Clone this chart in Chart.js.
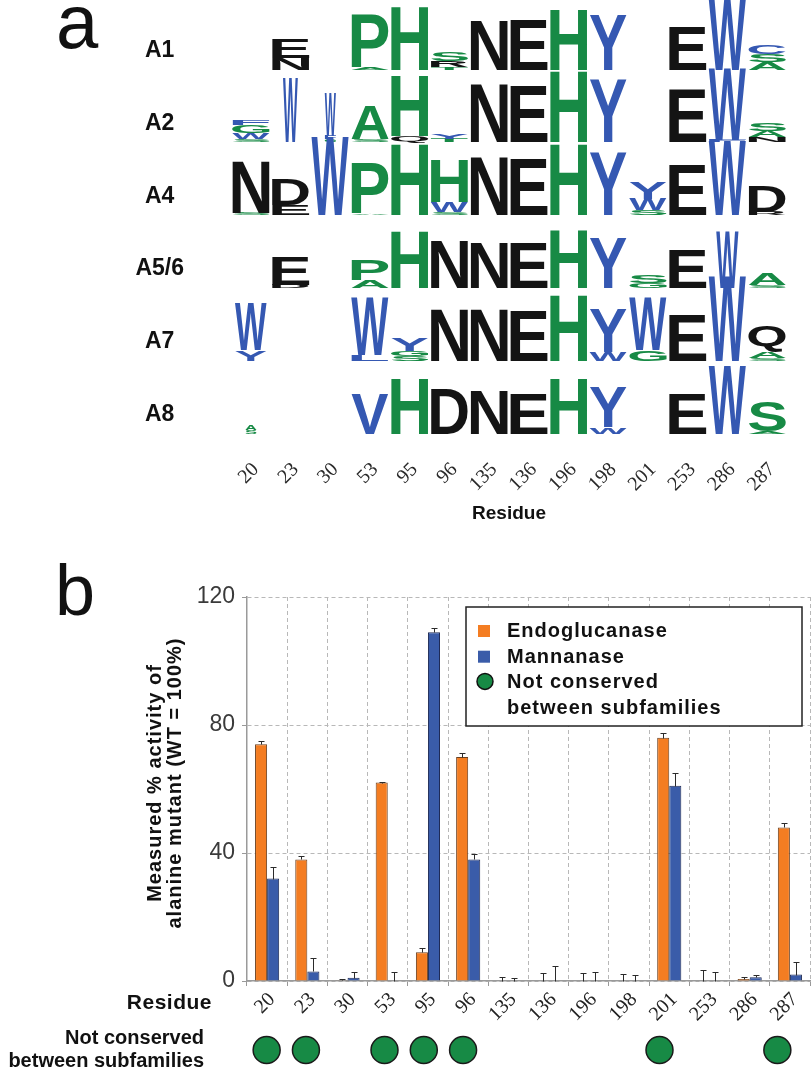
<!DOCTYPE html>
<html>
<head>
<meta charset="utf-8">
<script src="https://cdn.jsdelivr.net/npm/chart.js@4.4.1/dist/chart.umd.min.js"></script>
<style>
  body { margin: 0; background: #fff; width: 812px; height: 1075px; position: relative; overflow: hidden; }
  canvas { position: absolute; left: 0; }
</style>
</head>
<body>
<canvas id="logoChart" width="812" height="545" style="top:0"></canvas>
<canvas id="activityChart" width="812" height="480" style="top:560px"></canvas>
<canvas id="conservedChart" width="812" height="50" style="top:1025px"></canvas>
<script>
// residues shared by both panels
const residues = ['20', '23', '30', '53', '95', '96', '135', '136', '196', '198', '201', '253', '286', '287'];

// panel a: sequence logo, one stack per residue, letters listed bottom -> top as [letter, height]
const logoRows = ['A1', 'A2', 'A4', 'A5/6', 'A7', 'A8'];
const logoA1 = [[], [['N', 0.18], ['E', 0.3]], [], [['A', 0.03], ['P', 0.84]], [['H', 1.0]],
  [['T', 0.04], ['R', 0.1], ['S', 0.14]], [['N', 0.79]], [['E', 0.79]], [['H', 0.97]], [['Y', 0.87]],
  [], [['E', 0.68]], [['W', 1.12]], [['A', 0.12], ['S', 0.12], ['C', 0.14]]];
const logoA2 = [[['S', 0.05], ['W', 0.1], ['G', 0.13], ['F', 0.09]], [['W', 1.02]], [['G', 0.05], ['F', 0.05], ['W', 0.68]],
  [['S', 0.05], ['A', 0.53]], [['Q', 0.1], ['H', 0.97]], [['T', 0.05], ['Y', 0.08]], [['N', 0.92]], [['E', 0.9]],
  [['H', 1.13]], [['Y', 1.0]], [], [['E', 0.84]], [['F', 0.04], ['W', 1.14]], [['N', 0.08], ['A', 0.1], ['S', 0.13]]];
const logoA4 = [[['S', 0.03], ['N', 0.82]], [['E', 0.16], ['D', 0.4]], [['W', 1.24]], [['A', 0.02], ['P', 0.8]],
  [['H', 1.13]], [['S', 0.05], ['W', 0.16], ['H', 0.68]], [['N', 0.92]], [['E', 0.9]], [['H', 1.13]], [['Y', 1.0]],
  [['S', 0.08], ['W', 0.18], ['Y', 0.26]], [['E', 0.79]], [['W', 1.18]], [['R', 0.05], ['D', 0.4]]];
const logoA56 = [[], [['D', 0.05], ['E', 0.45]], [], [['A', 0.13], ['P', 0.32]], [['H', 0.9]], [['N', 0.76]],
  [['N', 0.71]], [['E', 0.71]], [['H', 0.92]], [['Y', 0.79]], [['G', 0.08], ['S', 0.13]], [['E', 0.6]],
  [['W', 0.9]], [['S', 0.05], ['A', 0.18]]];
const logoA7 = [[['Y', 0.17], ['W', 0.76]], [], [], [['L', 0.1], ['W', 0.92]], [['S', 0.08], ['G', 0.08], ['Y', 0.21]],
  [['N', 0.83]], [['N', 0.83]], [['E', 0.8]], [['H', 1.04]], [['W', 0.14], ['Y', 0.68]], [['G', 0.17], ['W', 0.84]],
  [['E', 0.72]], [['W', 1.33]], [['S', 0.05], ['A', 0.1], ['Q', 0.42]]];
const logoA8 = [[['S', 0.06], ['A', 0.08]], [], [], [['V', 0.62]], [['H', 0.88]], [['D', 0.7]], [['N', 0.7]],
  [['E', 0.62]], [['H', 0.88]], [['W', 0.1], ['Y', 0.62]], [], [['E', 0.62]], [['W', 1.07]], [['A', 0.04], ['S', 0.47]]];
const logoStacks = [logoA1, logoA2, logoA4, logoA56, logoA7, logoA8];
// columns with gaps (occupancy < 1) are drawn narrower
const occupancy = [['A2', 1, 0.4], ['A2', 2, 0.3], ['A5/6', 12, 0.6], ['A7', 0, 0.85], ['A8', 0, 0.3]];

// panel b: measured % activity of alanine mutants (WT = 100%)
const endoActivity = [74, 38, 0.2, 62, 9, 70, 0, 0, 0, 0, 76, 0, 0.6, 48];
const endoError = [1, 1, 0.4, 0.3, 1.2, 1.3, 1.3, 2.5, 2.6, 2.1, 1.4, 3.4, 0.6, 1.4];
const mannActivity = [32, 3, 1, 0, 109, 38, 0, 0, 0, 0, 61, 0, 1.2, 2];
const mannError = [3.6, 4.3, 1.9, 2.9, 1.3, 1.8, 1.0, 4.8, 2.9, 2.0, 4, 2.9, 0.6, 4];
const notConserved = [1, 1, 0, 1, 1, 1, 0, 0, 0, 0, 1, 0, 0, 1];
const activityTicks = [0, 40, 80, 120];

const GREEN = '#178a45';
const BLUE = '#3558b2';
const BLACK = '#141414';
const ORANGE = '#f47d22';
const BAR_BLUE = '#3a5ca9';
const SANS = '"Liberation Sans", Arial, sans-serif';

function letterColor(ch) {
  if ('HPASGT'.includes(ch)) return GREEN;
  if ('WYVFLCIM'.includes(ch)) return BLUE;
  return BLACK;
}

// baseline of each logo row on the y scale (A1 on top)
function rowBase(r) {
  return 0.18 + (logoRows.length - 1 - r) * 1.155;
}

function cellWidth(row, c) {
  const hit = occupancy.find(o => o[0] === row && o[1] === c);
  return hit ? hit[2] : 1;
}

// stretch one glyph so its ink box fills the given rectangle
function drawGlyph(ctx, ch, x0, y0, w, h) {
  const m = ctx.measureText(ch);
  const gw = m.actualBoundingBoxLeft + m.actualBoundingBoxRight;
  const gh = m.actualBoundingBoxAscent + m.actualBoundingBoxDescent;
  if (h < 0.5) return;
  ctx.save();
  ctx.translate(x0, y0);
  ctx.scale(w / gw, h / gh);
  ctx.fillStyle = letterColor(ch);
  ctx.fillText(ch, m.actualBoundingBoxLeft, m.actualBoundingBoxAscent);
  ctx.restore();
}

const logoPlugin = {
  id: 'logo',
  afterDatasetsDraw(chart) {
    const { ctx, scales: { x, y } } = chart;
    const colW = x.width / residues.length;
    ctx.save();
    ctx.font = 'bold 100px ' + SANS;
    ctx.textAlign = 'left';
    ctx.textBaseline = 'alphabetic';
    logoRows.forEach((row, r) => {
      const base = rowBase(r);
      logoStacks[r].forEach((stack, c) => {
        const w = colW * 0.94 * cellWidth(row, c);
        const xc = x.getPixelForValue(c);
        let cum = 0;
        stack.forEach(([letter, h]) => {
          const yb = y.getPixelForValue(base + cum);
          const yt = y.getPixelForValue(base + cum + h);
          cum += h;
          drawGlyph(ctx, letter, xc - w / 2, yt, w, yb - yt);
        });
      });
    });
    // panel letter
    ctx.font = '76px ' + SANS;
    ctx.fillStyle = '#111';
    ctx.fillText('a', 56, 48);
    ctx.restore();
  }
};

new Chart(document.getElementById('logoChart'), {
  type: 'bar',
  data: { labels: residues, datasets: [] },
  options: {
    responsive: false,
    animation: false,
    events: [],
    layout: { padding: { left: 0, right: 25, top: 0, bottom: 0 } },
    plugins: { legend: { display: false }, tooltip: { enabled: false } },
    scales: {
      x: {
        offset: true,
        grid: { display: false },
        border: { display: false },
        ticks: {
          autoSkip: false, minRotation: 45, maxRotation: 45, padding: 5, labelOffset: 5,
          color: '#2a2a2a', font: { family: '"Liberation Serif", serif', size: 20 }
        },
        title: {
          display: true, text: 'Residue', color: '#111',
          font: { family: SANS, size: 19, weight: 'bold' },
          padding: { top: 0, bottom: 20 }
        },
        afterFit(scale) { scale.height = 100; scale.paddingLeft = 0; scale.paddingRight = 0; }
      },
      y: {
        min: 0, max: 7.06,
        grid: { display: false },
        border: { display: false },
        afterBuildTicks(scale) { scale.ticks = logoRows.map((_, r) => ({ value: rowBase(r) + 0.3 })); },
        ticks: {
          crossAlign: 'center', padding: 39, color: '#111',
          font: { family: SANS, size: 23, weight: 'bold' },
          callback: (v, i) => logoRows[i]
        },
        afterFit(scale) { scale.width = 231; scale.paddingTop = 0; scale.paddingBottom = 0; }
      }
    }
  },
  plugins: [logoPlugin]
});

const errorBarPlugin = {
  id: 'errorBars',
  afterDatasetsDraw(chart) {
    const { ctx } = chart;
    const y = chart.scales.y;
    ctx.save();
    ctx.strokeStyle = '#2b2b2b';
    ctx.lineWidth = 1;
    [endoError, mannError].forEach((errs, d) => {
      const meta = chart.getDatasetMeta(d);
      meta.data.forEach((bar, i) => {
        const v = chart.data.datasets[d].data[i];
        const from = Math.round(y.getPixelForValue(v)) + 0.5;
        const top = Math.round(y.getPixelForValue(v + errs[i])) + 0.5;
        const bx = Math.round(bar.x) + 0.5;
        ctx.beginPath();
        ctx.moveTo(bx, from);
        ctx.lineTo(bx, top);
        ctx.moveTo(bx - 3, top);
        ctx.lineTo(bx + 3, top);
        ctx.stroke();
      });
    });
    ctx.restore();
  }
};

const yTitleLines = ['Measured % activity of', 'alanine mutant (WT = 100%)'];
const legendItems = [
  { text: ['Endoglucanase'], color: ORANGE, shape: 'square' },
  { text: ['Mannanase'], color: BAR_BLUE, shape: 'square' },
  { text: ['Not conserved', 'between subfamilies'], color: GREEN, shape: 'circle' }
];

const panelBText = {
  id: 'panelBText',
  afterDraw(chart) {
    const { ctx, chartArea: a } = chart;
    ctx.save();
    ctx.fillStyle = '#111';
    ctx.font = '72px ' + SANS;
    ctx.textAlign = 'left';
    ctx.textBaseline = 'alphabetic';
    ctx.fillText('b', 55, 55);

    ctx.letterSpacing = '1px';
    ctx.font = 'bold 20px ' + SANS;
    // y axis title
    ctx.save();
    ctx.translate(155, (a.top + a.bottom) / 2 - 6);
    ctx.rotate(-Math.PI / 2);
    ctx.textAlign = 'center';
    ctx.textBaseline = 'middle';
    yTitleLines.forEach((t, i) => ctx.fillText(t, 0, i * 20));
    ctx.restore();

    // legend box
    const lx = a.left + 219, ly = a.top + 10, lw = a.right - 8 - lx, lh = 119;
    ctx.fillStyle = '#fff';
    ctx.fillRect(lx, ly, lw, lh);
    ctx.strokeStyle = '#222';
    ctx.lineWidth = 1.5;
    ctx.strokeRect(lx, ly, lw, lh);
    let line = 0;
    legendItems.forEach(item => {
      const by = ly + 30 + line * 25.7;
      if (item.shape === 'square') {
        ctx.fillStyle = item.color;
        ctx.fillRect(lx + 12, by - 12, 12, 12);
      } else {
        ctx.beginPath();
        ctx.arc(lx + 19, by - 7, 8, 0, Math.PI * 2);
        ctx.fillStyle = item.color;
        ctx.fill();
        ctx.lineWidth = 1.5;
        ctx.strokeStyle = '#111';
        ctx.stroke();
      }
      ctx.fillStyle = '#111';
      item.text.forEach(t => {
        ctx.fillText(t, lx + 41, ly + 30 + line * 25.7);
        line++;
      });
    });

    // row label for the residue ticks
    ctx.letterSpacing = '0.5px';
    ctx.font = 'bold 21px ' + SANS;
    ctx.textAlign = 'right';
    ctx.textBaseline = 'middle';
    ctx.fillText('Residue', a.left - 35, a.bottom + 22);
    ctx.restore();
  }
};

new Chart(document.getElementById('activityChart'), {
  type: 'bar',
  data: {
    labels: residues,
    datasets: [
      { label: 'Endoglucanase', data: endoActivity, backgroundColor: ORANGE, borderColor: '#6b4020', borderWidth: 1 },
      { label: 'Mannanase', data: mannActivity, backgroundColor: BAR_BLUE, borderColor: '#1f2b55', borderWidth: 1 }
    ]
  },
  options: {
    responsive: false,
    animation: false,
    events: [],
    layout: { padding: { left: 0, right: 2, top: 37, bottom: 0 } },
    datasets: { bar: { categoryPercentage: 0.6, barPercentage: 1.0 } },
    plugins: { legend: { display: false }, tooltip: { enabled: false } },
    scales: {
      x: {
        offset: true,
        grid: { color: '#b8b8b8', lineWidth: 1, drawTicks: true, tickLength: 5, tickColor: '#999', offset: true },
        border: { display: true, color: '#9a9a9a', width: 1.5, dash: [4, 3] },
        ticks: {
          autoSkip: false, minRotation: 45, maxRotation: 45, padding: 2, labelOffset: 5,
          color: '#222', font: { family: '"Liberation Serif", serif', size: 20 }
        },
        afterFit(scale) { scale.height = 59; scale.paddingLeft = 0; scale.paddingRight = 0; }
      },
      y: {
        min: 0, max: 120,
        afterBuildTicks(scale) { scale.ticks = activityTicks.map(v => ({ value: v })); },
        grid: { color: '#b8b8b8', lineWidth: 1, drawTicks: true, tickLength: 5, tickColor: '#999' },
        border: { display: true, color: '#9a9a9a', width: 1.5, dash: [4, 3] },
        ticks: {
          padding: 7, color: '#3a3a3a',
          font: { family: '"Liberation Sans Narrow", "Liberation Sans", sans-serif', size: 23 }
        },
        afterFit(scale) { scale.width = 247; scale.paddingTop = 0; scale.paddingBottom = 0; }
      }
    }
  },
  plugins: [errorBarPlugin, panelBText]
});

new Chart(document.getElementById('conservedChart'), {
  type: 'line',
  data: {
    labels: residues,
    datasets: [{
      label: 'Not conserved between subfamilies',
      data: notConserved.map(f => (f ? 0 : null)),
      showLine: false,
      clip: false,
      pointRadius: 13.5,
      pointBackgroundColor: GREEN,
      pointBorderColor: '#1a1a1a',
      pointBorderWidth: 1.5
    }]
  },
  options: {
    responsive: false,
    animation: false,
    events: [],
    layout: { padding: { left: 0, right: 2, top: 0, bottom: 0 } },
    plugins: { legend: { display: false }, tooltip: { enabled: false } },
    scales: {
      x: { display: false, offset: true },
      y: {
        min: -1, max: 1,
        grid: { display: false },
        border: { display: false },
        afterBuildTicks(scale) { scale.ticks = [{ value: 0 }]; },
        ticks: {
          padding: 35, color: '#111',
          font: { family: SANS, size: 20, weight: 'bold', lineHeight: 1.15 },
          callback: () => ['Not conserved', 'between subfamilies']
        },
        afterFit(scale) { scale.width = 247; scale.paddingTop = 0; scale.paddingBottom = 0; }
      }
    }
  }
});
</script>
</body>
</html>
